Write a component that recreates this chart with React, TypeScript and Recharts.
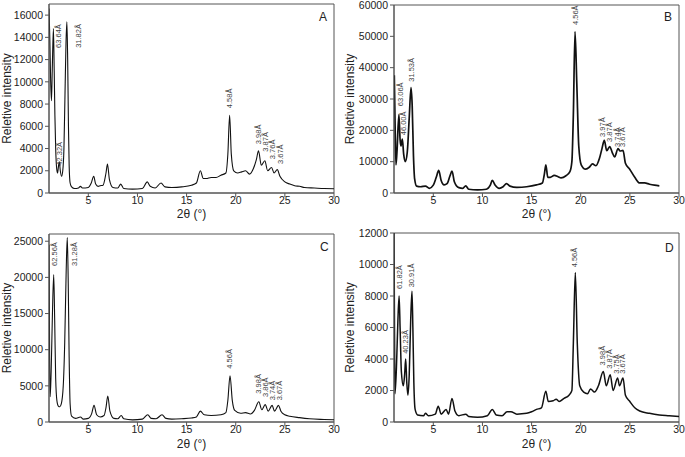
import React from 'react';
import { LineChart, Line, XAxis, YAxis, ReferenceDot, ReferenceArea } from 'recharts';

const FONT = '"Liberation Sans", Arial, Helvetica, sans-serif';
const X_TICKS = [5, 10, 15, 20, 25, 30];

// ---------- Panel A ----------
const A_2THETA = [1.0, 1.08, 1.17, 1.25, 1.33, 1.45, 1.53, 1.6, 1.68, 1.78, 1.87, 1.95, 2.05, 2.15, 2.28, 2.4, 2.52, 2.63, 2.73, 2.82, 2.9, 2.98, 3.05, 3.15, 3.3, 3.6, 4.0, 4.2, 4.4, 5.0, 5.3, 5.55, 5.75, 6.0, 6.2, 6.5, 6.8, 6.95, 7.15, 7.5, 8.0, 8.3, 8.6, 9.5, 10.5, 11.0, 11.3, 11.8, 12.4, 12.8, 13.5, 14.5, 15.5, 16.0, 16.4, 16.7, 17.0, 17.5, 18.0, 18.5, 19.0, 19.2, 19.38, 19.55, 19.8, 20.2, 20.6, 21.0, 21.4, 21.8, 22.1, 22.32, 22.6, 22.96, 23.25, 23.64, 23.9, 24.23, 24.5, 25.0, 25.5, 26.0, 26.5, 27.0, 28, 29, 30];
const A_INTENSITY = [16600, 14000, 10000, 8300, 11000, 14800, 11000, 7000, 4000, 2200, 1800, 2300, 2800, 2000, 1500, 2000, 4000, 9000, 13500, 15400, 12000, 6000, 2500, 900, 550, 400, 450, 600, 450, 500, 900, 1500, 800, 600, 650, 700, 1800, 2600, 1200, 500, 450, 800, 400, 350, 400, 1000, 600, 450, 900, 550, 500, 550, 700, 900, 2000, 1300, 1300, 1400, 1400, 1600, 1800, 3500, 7000, 3500, 2000, 1800, 1900, 2000, 1700, 2200, 3000, 3800, 2500, 2900, 2000, 2300, 1800, 2100, 1500, 1000, 800, 650, 600, 500, 450, 400, 380];
const A_Y_TICKS = [0, 2000, 4000, 6000, 8000, 10000, 12000, 14000, 16000];
const A_PEAK_TEXT = ['63.64Å', '42.32Å', '31.82Å', '4.58Å', '3.98Å', '3.87Å', '3.76Å', '3.67Å'];
const A_PEAK_2THETA = [1.95, 2.05, 4.05, 19.34, 22.28, 23.04, 23.75, 24.6];
const A_PEAK_LEVEL = [13050, 2460, 13060, 7630, 4390, 3720, 3040, 2610];

// ---------- Panel B ----------
const B_2THETA = [1.03, 1.12, 1.2, 1.3, 1.5, 1.62, 1.7, 1.85, 1.98, 2.15, 2.35, 2.55, 2.73, 2.85, 2.98, 3.1, 3.3, 3.7, 4.2, 4.6, 5.0, 5.3, 5.55, 5.8, 6.1, 6.4, 6.7, 6.9, 7.15, 7.6, 8.0, 8.3, 8.6, 9.5, 10.4, 10.8, 11.0, 11.3, 11.7, 12.1, 12.45, 12.8, 13.5, 14.5, 15.5, 16.1, 16.3, 16.45, 16.65, 16.9, 17.3, 17.7, 18.0, 18.5, 18.9, 19.1, 19.25, 19.42, 19.6, 19.8, 20.05, 20.5, 20.9, 21.2, 21.55, 21.9, 22.15, 22.4, 22.65, 22.95, 23.2, 23.45, 23.8, 24.0, 24.3, 24.55, 25.0, 25.5, 26.0, 26.5, 27.0, 27.5, 28.0];
const B_INTENSITY = [37600, 20000, 9000, 13000, 25000, 17000, 15000, 17200, 12500, 10000, 13000, 24000, 33600, 28000, 12000, 4500, 2200, 2000, 2200, 1500, 2500, 5000, 7200, 4000, 2600, 3000, 5500, 7000, 3500, 1700, 1500, 2300, 1200, 1000, 1200, 2500, 4000, 2500, 1500, 2000, 3000, 2200, 1800, 2000, 2600, 3200, 6000, 9000, 5000, 5000, 5600, 5200, 4800, 5500, 6800, 10000, 25000, 51500, 35000, 15000, 9000, 7600, 8300, 9300, 8700, 11000, 14000, 16800, 13500, 14800, 13000, 11500, 14200, 13400, 13600, 9500, 7500, 5000, 3200, 3200, 2800, 2500, 2300];
const B_Y_TICKS = [0, 10000, 20000, 30000, 40000, 50000, 60000];
const B_PEAK_TEXT = ['63.06Å', '46.00Å', '31.53Å', '4.56Å', '3.97Å', '3.87Å', '3.74Å', '3.67Å'];
const B_PEAK_2THETA = [1.71, 1.95, 2.76, 19.44, 22.22, 22.9, 23.7, 24.3];
const B_PEAK_LEVEL = [27700, 18440, 35500, 53620, 17900, 16300, 14700, 14700];

// ---------- Panel C ----------
const C_2THETA = [1.0, 1.06, 1.12, 1.22, 1.35, 1.48, 1.58, 1.68, 1.8, 1.95, 2.1, 2.25, 2.45, 2.6, 2.75, 2.86, 2.95, 3.05, 3.15, 3.3, 3.7, 4.2, 4.5, 5.0, 5.35, 5.58, 5.85, 6.2, 6.6, 6.8, 6.98, 7.2, 7.6, 8.0, 8.35, 8.6, 9.5, 10.5, 11.05, 11.4, 11.9, 12.5, 12.9, 13.5, 14.5, 15.5, 16.0, 16.4, 16.8, 17.5, 18.5, 19.0, 19.2, 19.42, 19.65, 19.9, 20.5, 21.0, 21.5, 21.9, 22.35, 22.65, 23.0, 23.3, 23.7, 23.95, 24.35, 24.6, 25.0, 25.5, 26.5, 27.5, 29, 30];
const C_INTENSITY = [24500, 10000, 3500, 7000, 15000, 20400, 14000, 6000, 3000, 2200, 2100, 2500, 5000, 11000, 21000, 25500, 20000, 9000, 2500, 800, 500, 700, 400, 500, 1200, 2300, 1000, 700, 900, 2000, 3600, 1500, 500, 450, 900, 450, 300, 400, 1000, 500, 450, 1000, 500, 400, 450, 550, 700, 1500, 1000, 900, 1000, 1300, 3000, 6400, 3000, 1600, 1200, 1300, 1100, 1600, 2800, 1700, 2400, 1500, 2300, 1500, 2300, 1500, 1000, 800, 600, 450, 350, 300];
const C_Y_TICKS = [0, 5000, 10000, 15000, 20000, 25000];
const C_PEAK_TEXT = ['62.56Å', '31.28Å', '4.56Å', '3.98Å', '3.86Å', '3.74Å', '3.67Å'];
const C_PEAK_2THETA = [1.61, 3.64, 19.34, 22.29, 23.03, 23.75, 24.49];
const C_PEAK_LEVEL = [21590, 21590, 7380, 3920, 3460, 3000, 3000];

// ---------- Panel D ----------
const D_2THETA = [1.0, 1.05, 1.1, 1.25, 1.4, 1.52, 1.62, 1.75, 1.95, 2.08, 2.19, 2.3, 2.42, 2.55, 2.7, 2.83, 2.92, 3.02, 3.15, 3.4, 4.0, 4.2, 4.5, 5.2, 5.5, 5.8, 6.3, 6.55, 6.9, 7.2, 7.6, 8.3, 8.6, 9.5, 10.5, 11.0, 11.4, 12.0, 12.5, 12.9, 13.5, 14.5, 15.0, 15.5, 16.0, 16.45, 16.7, 17.2, 17.5, 17.8, 18.3, 18.8, 19.1, 19.25, 19.45, 19.65, 19.9, 20.3, 20.7, 21.0, 21.4, 21.8, 22.3, 22.6, 23.0, 23.3, 23.75, 23.95, 24.3, 24.55, 25.0, 25.5, 26.0, 27.0, 28.0, 29.0, 30.0];
const D_INTENSITY = [12000, 6000, 1800, 3500, 6500, 8000, 6000, 3200, 2300, 3000, 4000, 2500, 1700, 3000, 6500, 8300, 6000, 2500, 800, 450, 400, 550, 400, 500, 1000, 500, 800, 500, 1500, 700, 400, 500, 350, 300, 400, 800, 450, 400, 650, 650, 500, 550, 650, 800, 900, 1950, 1300, 1350, 1450, 1300, 1500, 1700, 2000, 5000, 9500, 5000, 2300, 1900, 1800, 2100, 1900, 2300, 3200, 2300, 3000, 2000, 2800, 2300, 2800, 1700, 1300, 900, 700, 550, 450, 400, 350];
const D_Y_TICKS = [0, 2000, 4000, 6000, 8000, 10000, 12000];
const D_PEAK_TEXT = ['61.82Å', '40.23Å', '30.91Å', '4.56Å', '3.98Å', '3.87Å', '3.75Å', '3.67Å'];
const D_PEAK_2THETA = [1.51, 2.12, 2.76, 19.41, 22.2, 22.9, 23.64, 24.3];
const D_PEAK_LEVEL = [8450, 4330, 8550, 9820, 3590, 3380, 3060, 3060];

const toRows = (xs: number[], ys: number[]) => xs.map((x, i) => ({ x, y: ys[i] }));

const YTitle = (dx: number) => (props: any) => {
  const vb = props.viewBox || {};
  const cx = (vb.x || 0) + dx;
  const cy = (vb.y || 0) + (vb.height || 0) / 2;
  return (
    <text x={cx} y={cy} transform={`rotate(-90 ${cx} ${cy})`} textAnchor="middle" dominantBaseline="central"
      fontFamily={FONT} fontSize={12} fill="#222">Reletive intensity</text>
  );
};

const XTitle = (dy: number) => (props: any) => {
  const vb = props.viewBox || {};
  const cx = (vb.x || 0) + (vb.width || 0) / 2;
  const cy = (vb.y || 0) + dy;
  return (
    <text x={cx} y={cy} textAnchor="middle" dominantBaseline="central" fontFamily={FONT} fontSize={12} fill="#222">
      2θ (°)
    </text>
  );
};

type PanelProps = {
  left: number; top: number; width: number; height: number;
  mTop: number; yAxisWidth: number; xAxisHeight: number;
  xs: number[]; ys: number[]; yMax: number; yTicks: number[];
  pText: string[]; pX: number[]; pY: number[];
  letter: string; letterX: number; letterY: number;
  sw: number; yTitleDx: number; xTitleDy: number;
};

const Panel = (p: PanelProps) => {
  const data = toRows(p.xs, p.ys);
  return (
    <div style={{ position: 'absolute', left: p.left, top: p.top, width: p.width, height: p.height }}>
      <LineChart width={p.width} height={p.height} data={data} margin={{ top: p.mTop, right: 6, bottom: 0, left: 0 }}>
        <XAxis dataKey="x" type="number" domain={[1, 30]} ticks={X_TICKS} allowDataOverflow
          height={p.xAxisHeight} tickSize={4} tickMargin={0}
          stroke="#555" tick={{ fontSize: 10.5, fill: '#222', fontFamily: FONT }}
          label={{ content: XTitle(p.xTitleDy) }} />
        <YAxis type="number" domain={[0, p.yMax]} ticks={p.yTicks} allowDataOverflow width={p.yAxisWidth}
          tickSize={4} tickMargin={2} stroke="#555" interval={0}
          tick={{ fontSize: 10.5, fill: '#222', fontFamily: FONT }}
          label={{ content: YTitle(p.yTitleDx) }} />
        <ReferenceArea x1={1} x2={30} y1={0} y2={p.yMax} fill="none" stroke="#555" strokeWidth={1} ifOverflow="visible" />
        <Line dataKey="y" type="monotone" stroke="#111" strokeWidth={p.sw} dot={false} isAnimationActive={false} />
        {p.pText.map((t, i) => (
          <ReferenceDot key={t + i} x={p.pX[i]} y={p.pY[i]} r={0} ifOverflow="visible"
            shape={(sp: any) => (
              <text x={sp.cx} y={sp.cy} transform={`rotate(-90 ${sp.cx} ${sp.cy})`} textAnchor="start"
                dominantBaseline="central" fontFamily={FONT} fontSize={7.5} fill="#444">{t}</text>
            )} />
        ))}
      </LineChart>
      <div style={{ position: 'absolute', left: p.letterX, top: p.letterY, fontFamily: FONT, fontSize: 12, color: '#222', lineHeight: '12px' }}>
        {p.letter}
      </div>
    </div>
  );
};

export default function App() {
  return (
    <div style={{ position: 'absolute', left: 0, top: 0, width: 685, height: 457, background: '#fff' }}>
      <Panel left={0} top={0} width={340} height={225} mTop={4} yAxisWidth={49} xAxisHeight={32}
        xs={A_2THETA} ys={A_INTENSITY} yMax={17000} yTicks={A_Y_TICKS}
        pText={A_PEAK_TEXT} pX={A_PEAK_2THETA} pY={A_PEAK_LEVEL}
        letter="A" letterX={319} letterY={11} sw={1.1} yTitleDx={7} xTitleDy={21} />
      <Panel left={340} top={0} width={345} height={225} mTop={5} yAxisWidth={54} xAxisHeight={32}
        xs={B_2THETA} ys={B_INTENSITY} yMax={60000} yTicks={B_Y_TICKS}
        pText={B_PEAK_TEXT} pX={B_PEAK_2THETA} pY={B_PEAK_LEVEL}
        letter="B" letterX={324} letterY={11} sw={1.7} yTitleDx={10} xTitleDy={21} />
      <Panel left={0} top={225} width={340} height={232} mTop={9} yAxisWidth={49} xAxisHeight={35}
        xs={C_2THETA} ys={C_INTENSITY} yMax={26000} yTicks={C_Y_TICKS}
        pText={C_PEAK_TEXT} pX={C_PEAK_2THETA} pY={C_PEAK_LEVEL}
        letter="C" letterX={320} letterY={16} sw={1.1} yTitleDx={7} xTitleDy={22} />
      <Panel left={340} top={225} width={345} height={232} mTop={8} yAxisWidth={54} xAxisHeight={35}
        xs={D_2THETA} ys={D_INTENSITY} yMax={12000} yTicks={D_Y_TICKS}
        pText={D_PEAK_TEXT} pX={D_PEAK_2THETA} pY={D_PEAK_LEVEL}
        letter="D" letterX={325} letterY={17} sw={1.5} yTitleDx={10} xTitleDy={22} />
    </div>
  );
}
